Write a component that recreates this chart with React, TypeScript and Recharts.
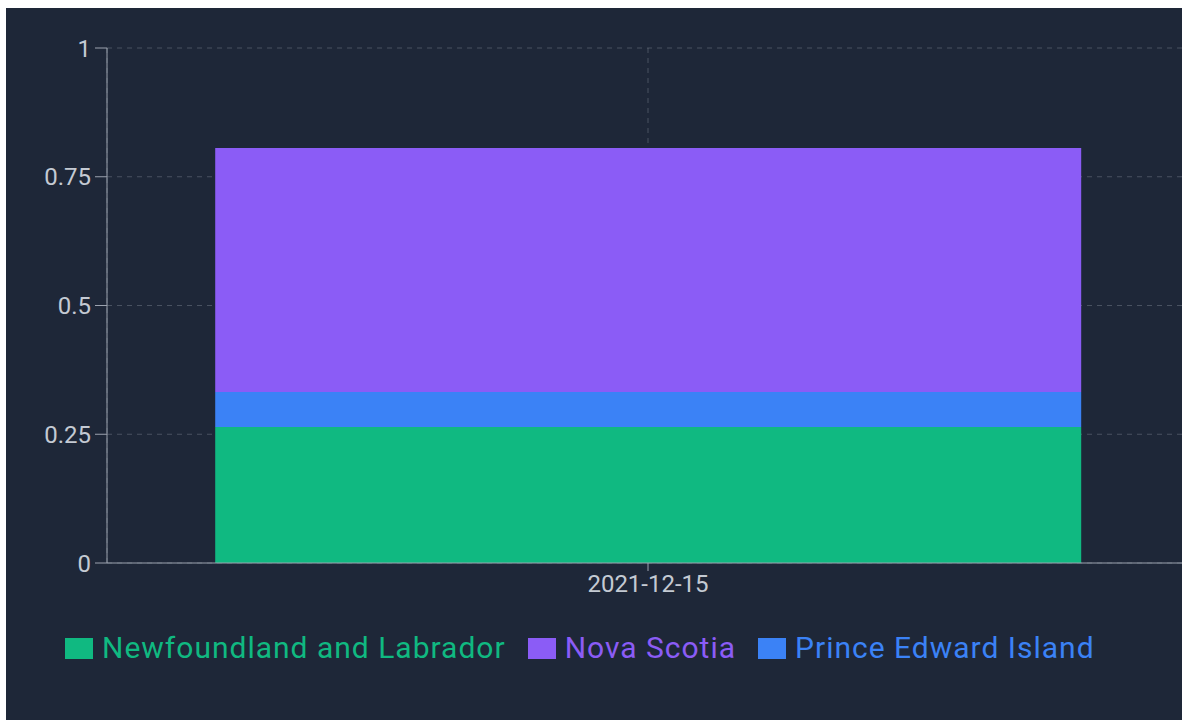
import { BarChart, Bar, XAxis, YAxis, CartesianGrid, Legend } from 'recharts'

const categories = ['2021-12-15']
const newfoundland = [0.264]
const novaScotia = [0.474]
const princeEdward = [0.068]
const yTicks = [0, 0.25, 0.5, 0.75, 1]

const data = categories.map((date, i) => ({
  date,
  nl: newfoundland[i],
  ns: novaScotia[i],
  pei: princeEdward[i],
}))

// legend order differs from stacking order
const legendItems = [
  { key: 'nl', label: 'Newfoundland and Labrador', color: '#10b981' },
  { key: 'ns', label: 'Nova Scotia', color: '#8b5cf6' },
  { key: 'pei', label: 'Prince Edward Island', color: '#3b82f6' },
]

const font = 'Roboto, "Noto Sans", sans-serif'

function LegendContent() {
  return (
    <div style={{ display: 'flex', alignItems: 'center', height: 50, fontFamily: font }}>
      {legendItems.map((it) => (
        <div key={it.key} style={{ display: 'flex', alignItems: 'center', marginRight: 22 }}>
          <span style={{ display: 'inline-block', width: 28, height: 21, background: it.color, marginRight: 9 }} />
          <span style={{ color: it.color, fontSize: 30, lineHeight: '30px', letterSpacing: 1 }}>{it.label}</span>
        </div>
      ))}
    </div>
  )
}

export default function App() {
  return (
    <div
      style={{
        position: 'absolute',
        left: 6,
        top: 8,
        width: 1176,
        height: 712,
        overflow: 'hidden',
        background: '#1e2738',
      }}
    >
      <BarChart
        width={1190}
        height={712}
        data={data}
        margin={{ top: 40, right: 7, left: 0, bottom: 67 }}
        style={{ fontFamily: font }}
      >
        <CartesianGrid stroke="#9ca3af" strokeOpacity={0.35} strokeDasharray="5 5" />
        <XAxis
          dataKey="date"
          height={40}
          stroke="#9ca3af"
          tick={{ fill: '#c4cad3', fontSize: 24 }}
          tickSize={8}
          tickMargin={4}
        />
        <YAxis
          width={101}
          domain={[0, 1]}
          ticks={yTicks}
          stroke="#9ca3af"
          tick={{ fill: '#c4cad3', fontSize: 24 }}
          tickSize={12}
          tickMargin={4}
        />
        <Legend
          verticalAlign="bottom"
          content={<LegendContent />}
          wrapperStyle={{ left: 59, top: 615, width: 1100, height: 50 }}
        />
        <Bar dataKey="nl" stackId="a" fill="#10b981" isAnimationActive={false} />
        <Bar dataKey="pei" stackId="a" fill="#3b82f6" isAnimationActive={false} />
        <Bar dataKey="ns" stackId="a" fill="#8b5cf6" isAnimationActive={false} />
      </BarChart>
    </div>
  )
}
